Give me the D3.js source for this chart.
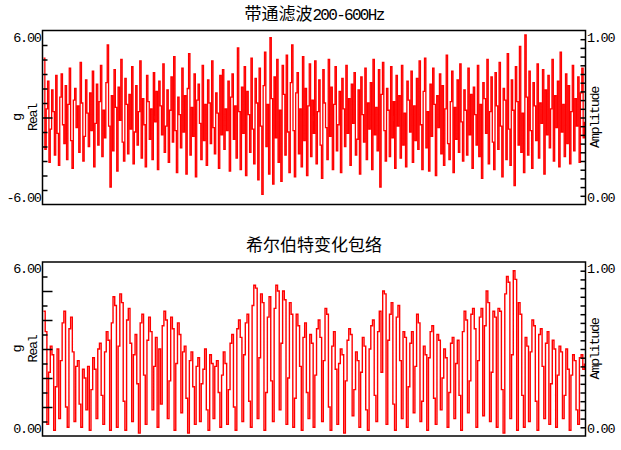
<!DOCTYPE html>
<html>
<head>
<meta charset="utf-8">
<script src="https://cdn.jsdelivr.net/npm/d3@7"></script>
<style>
  body { margin: 0; background: #fff; }
  svg { display: block; }
</style>
</head>
<body>
<div id="chart"></div>
<script>
// band-pass filtered signal (g)
let bandpass = [
  4.1, -2.2, 0.6, 2.5, -3.1, -0.8, 1.9, 0.4, -2.6, 2.9, -1.1, -3.3, 1.4, 3.0, -0.5, -1.8, 2.2, -2.9, 0.9, 3.4,
  -1.6, -3.5, 1.2, 2.0, -0.7, 0.8, -2.4, 3.8, 1.0, -3.0, -1.3, 2.6, 0.3, -2.0, 1.7, -0.9, 3.2, -3.4, -0.4, 2.3,
  -1.9, 1.1, 3.6, -2.7, 0.5, -1.4, 2.4, 5.0, -0.6, -4.8, 1.5, -2.3, 3.3, 0.7, -3.7, 2.1, -0.2, 4.0, -1.7, -3.0,
  2.7, 0.9, -2.5, 1.6, -0.8, 3.5, -3.2, -1.0, 2.2, -1.9, 0.4, 3.9, -2.8, 1.3, -0.5, -3.4, 2.9, 1.1, -1.5, 0.6,
  -2.9, 3.1, -0.3, 1.8, -3.6, 2.5, 0.8, -1.2, 3.7, -2.4, -0.6, 1.9, -3.1, 0.5, 2.8, -1.7, 4.2, -0.9, -3.8, 1.4,
  0.2, -2.1, 3.4, -1.0, 1.5, -3.9, 2.0, 4.4, -2.6, 0.7, -1.3, 3.0, -4.1, 1.2, 2.3, -0.4, -2.9, 3.6, -1.6, 0.9,
  -3.3, 2.6, 1.0, -1.8, 3.9, -0.7, -2.5, 1.7, 0.3, -3.5, 2.9, -1.2, 3.3, -2.2, 0.6, -0.9, 2.5, -3.7, 1.4, 3.0,
  -1.5, 0.8, -2.8, 4.8, 0.4, -3.6, 2.1, -1.1, 3.5, -4.0, 1.8, 0.2, -2.4, 4.1, -0.8, -3.2, 2.7, 1.0, -4.3, 3.4,
  -0.6, -5.3, 2.2, 4.5, -2.0, 0.9, -3.9, 5.5, 1.3, -4.6, 2.8, -1.4, 4.0, -3.1, 0.5, -4.4, 3.6, 1.6, -2.6, 4.3,
  -1.0, -3.8, 2.4, 5.0, -0.9, -4.1, 1.7, 3.1, -2.5, 0.6, -3.4, 4.2, -1.6, 2.0, -4.0, 0.8, 3.7, -2.7, 1.2, -1.1,
  3.9, -3.2, 0.4, 2.6, -1.9, -4.2, 3.3, 1.0, -0.7, -2.9, 4.0, -1.3, 2.1, -3.6, 0.9, 3.5, -2.3, -0.5, 1.8, -3.8,
  2.7, 0.6, -2.0, 3.6, -1.1, 1.3, -3.3, 2.3, -0.4, 3.1, -2.6, -1.5, 1.9, -3.9, 2.8, 0.2, -1.7, 3.4, -2.9, 1.0,
  -0.8, 2.4, -3.6, 4.0, -1.2, 0.7, -2.3, 3.3, -4.8, 1.6, 3.8, -0.9, -3.0, 2.0, 0.5, -2.7, 3.5, -1.4, 1.1, -3.5,
  2.9, -0.6, 1.5, -2.8, 3.6, -1.9, 0.3, -3.4, 2.5, 1.2, -1.0, 3.2, -3.1, 0.8, -1.6, 2.7, -2.2, 3.9, -0.5, -3.6,
  1.8, 4.1, -2.1, 0.4, -3.7, 2.3, -1.3, 3.4, 0.9, -4.0, 1.5, -0.7, 3.0, -2.5, 2.2, -3.3, 0.6, 4.3, -1.8, -2.9,
  1.1, 3.2, -3.8, 0.7, -1.5, 2.6, -2.4, 3.7, -0.3, -3.0, 1.9, 0.5, -2.6, 3.4, -1.2, 1.6, -3.5, 2.1, 0.2, -1.9,
  3.6, -2.7, 0.9, -4.2, 2.4, 1.3, -1.1, 4.0, -3.2, 0.4, 2.8, -1.7, -3.6, 3.1, 0.8, -2.2, 3.8, -0.6, -4.1, 2.0,
  1.2, -2.9, 4.4, -0.8, -3.3, 2.6, 0.5, -4.7, 3.5, 1.1, -1.9, 4.9, -2.4, 0.3, -3.8, 5.7, 1.4, -2.6, 3.2, -0.9,
  -3.5, 2.4, 0.8, -1.6, 3.7, -2.8, 1.0, -0.4, 3.3, -3.9, 1.9, -1.2, 2.9, -2.1, 0.6, 4.0, -3.0, 1.5, -0.7, 2.5,
  -3.4, 4.5, -1.0, 0.9, -2.7, 3.0, -1.8, 2.2, -3.2, 0.4, 3.6, -2.3, 1.3, -0.6, 2.8, -3.1, 1.7, 3.4, -1.4, -0.3
];

// hilbert envelope (g)
let envelope = [
  4.3, 3.6, 0.4, 2.2, 3.1, 2.8, 0.2, 1.7, 3.0, 0.6, 2.6, 3.9, 4.3, 1.0, 0.3, 3.7, 4.1, 2.9, 0.5, 2.4,
  2.6, 1.1, 0.3, 2.3, 2.0, 0.9, 2.4, 0.2, 1.6, 2.7, 2.3, 0.6, 3.0, 3.2, 1.4, 0.4, 2.9, 3.6, 3.3, 0.2,
  3.9, 4.8, 4.5, 0.3, 3.1, 4.9, 4.6, 1.2, 0.2, 4.0, 4.4, 3.2, 0.5, 2.8, 3.5, 1.8, 0.1, 3.9, 4.2, 2.1,
  0.4, 3.3, 4.1, 3.6, 0.9, 2.4, 3.4, 0.3, 3.0, 1.1, 3.8, 4.3, 4.0, 0.6, 1.9, 4.1, 3.7, 0.2, 2.5, 3.9,
  3.5, 0.8, 2.9, 3.1, 1.3, 0.1, 2.6, 2.9, 1.7, 0.4, 2.4, 2.7, 0.5, 1.8, 2.3, 3.0, 0.9, 0.2, 2.8, 2.5,
  0.6, 2.4, 2.6, 1.5, 0.3, 2.1, 2.9, 2.5, 0.4, 1.6, 3.2, 3.5, 1.0, 0.2, 3.7, 4.0, 3.4, 0.5, 2.8, 3.9,
  4.2, 1.2, 0.3, 4.5, 5.2, 5.1, 0.6, 2.7, 4.9, 4.6, 0.2, 1.5, 4.1, 4.8, 1.9, 0.5, 4.4, 5.2, 5.0, 0.9,
  3.2, 5.0, 4.7, 0.4, 2.0, 4.6, 4.2, 0.3, 1.3, 4.2, 3.8, 2.4, 0.2, 3.4, 3.9, 1.5, 0.6, 3.5, 3.2, 0.3,
  2.1, 3.7, 4.0, 3.4, 0.5, 2.6, 4.4, 4.2, 1.0, 0.2, 3.1, 3.6, 2.3, 0.4, 2.5, 3.0, 2.8, 0.1, 1.9, 3.3,
  3.7, 3.5, 0.7, 1.6, 2.9, 2.6, 0.3, 2.2, 3.4, 3.1, 0.9, 0.2, 3.0, 3.8, 4.0, 1.4, 0.5, 3.6, 4.3, 2.2,
  5.0, 4.9, 0.4, 3.3, 4.2, 4.6, 1.1, 0.2, 4.1, 4.5, 2.6, 0.6, 3.6, 3.4, 0.3, 1.7, 3.2, 3.6, 0.8, 2.4,
  4.2, 3.9, 0.5, 1.2, 3.1, 2.8, 0.2, 2.7, 3.6, 3.8, 1.3, 0.4, 3.5, 3.3, 0.9, 2.0, 3.0, 2.7, 0.3, 1.5,
  3.2, 3.4, 0.6, 2.5, 3.3, 1.4, 0.2, 3.6, 4.3, 4.0, 0.8, 1.9, 4.2, 4.4, 3.7, 0.3, 2.6, 4.1, 4.4, 0.7,
  3.8, 5.0, 4.6, 0.5, 2.2, 4.3, 4.1, 0.3, 4.4, 4.3, 1.6, 0.1, 4.9, 5.5, 5.3, 0.6, 2.8, 5.7, 5.4, 0.2,
  4.6, 4.2, 1.4, 0.3, 3.4, 3.1, 0.5, 2.9, 4.0, 3.8, 1.2, 0.2, 3.5, 3.7, 2.4, 0.6, 3.2, 3.6, 0.4, 1.8,
  3.3, 3.0, 0.3, 2.1, 3.1, 2.9, 0.6, 1.4, 3.0, 2.3, 0.2, 2.1, 2.8, 2.6, 0.9, 0.4, 2.7, 2.8, 2.3, 2.5
];

let titles = ["带通滤波200-600Hz", "希尔伯特变化包络"];
let leftDomains = [[-6, 6], [0, 6]];
let leftMinorSteps = [1, 0.5];
let leftMajorSteps = [6, 1];
let rightDomain = [0, 1];
let rightStep = 0.05;
let leftLabel = ["g", "Real"];
let rightLabel = "Amplitude";

const MONO = "'Liberation Mono', 'DejaVu Sans Mono', monospace";
const CJK = "'Noto Sans CJK SC', sans-serif";

class SignalPanel {

  /**
   * One framed panel: left axis in g, right axis in amplitude
   */
  constructor (svg, top, title, domain, minorStep, majorStep, lineWidth) {
    this.svg = svg;
    this.left = 42.5;
    this.right = 585.5;
    this.top = top;
    this.height = 174;
    this.bottom = top + this.height;
    this.title = title;
    this.domain = domain;
    this.minorStep = minorStep;
    this.majorStep = majorStep;
    this.lineWidth = lineWidth;
  };

  // small mono text, squeezed to a half-width cell like the original font
  label(sel) {
    return sel.style("font-family", MONO)
        .style("font-size", "13.5px")
        .style("letter-spacing", "-1.3px");
  }

  update(data)
  {
    let g = this.svg.append("g");
    let cx = (this.left + this.right) / 2;
    let cy = (this.top + this.bottom) / 2;

    let xScale = d3.scaleLinear()
        .domain([0, data.length - 1])
        .range([this.left + 1, this.right - 1]);
    let yScale = d3.scaleLinear()
        .domain(this.domain)
        .range([this.bottom, this.top]);
    let yRight = d3.scaleLinear()
        .domain(rightDomain)
        .range([this.bottom, this.top]);

    // title, chinese runs in the CJK font, the rest in mono
    let t = g.append("text")
        .attr("x", cx)
        .attr("y", this.top - 11)
        .attr("text-anchor", "middle")
        .attr("fill", "#000");
    this.title.match(/[\u4e00-\u9fff]+|[^\u4e00-\u9fff]+/g).forEach(run => {
      let isCjk = /[\u4e00-\u9fff]/.test(run);
      t.append("tspan")
          .style("font-family", isCjk ? CJK : MONO)
          .style("font-size", isCjk ? "17px" : "16px")
          .style("letter-spacing", isCjk ? "0px" : "-1.7px")
          .text(run);
    });

    // signal
    let line = d3.line()
        .x((d, i) => xScale(i))
        .y(d => yScale(d))
        .curve(d3.curveStepAfter);
    g.append("path")
        .datum(data)
        .attr("d", line)
        .attr("fill", "none")
        .attr("stroke", "#ff0000")
        .attr("stroke-width", this.lineWidth);

    // left ticks point into the plot
    let span = this.domain[1] - this.domain[0];
    let nMinor = Math.round(span / this.minorStep);
    let minor = d3.range(1, nMinor).map(i => this.domain[0] + i * this.minorStep);
    let major = minor.filter(v => Math.abs(v / this.majorStep - Math.round(v / this.majorStep)) < 1e-6);
    minor = minor.filter(v => major.indexOf(v) < 0);

    let leftMinor = d3.axisRight(yScale).tickValues(minor).tickSize(5).tickFormat("");
    let leftMajor = d3.axisRight(yScale).tickValues(major).tickSize(10).tickFormat("");
    let rightAxis = d3.axisLeft(yRight)
        .tickValues(d3.range(1, 20).map(i => i * rightStep))
        .tickSize(5).tickFormat("");

    [leftMinor, leftMajor].forEach(ax => {
      g.append("g")
          .attr("transform", "translate(" + this.left + ",0)")
          .call(ax);
    });
    g.append("g")
        .attr("transform", "translate(" + this.right + ",0)")
        .call(rightAxis);
    g.selectAll(".domain").remove();
    g.selectAll(".tick line").attr("stroke", "#000").attr("stroke-width", 1.5);

    // frame
    g.append("rect")
        .attr("x", this.left)
        .attr("y", this.top)
        .attr("width", this.right - this.left)
        .attr("height", this.height)
        .attr("fill", "none")
        .attr("stroke", "#000")
        .attr("stroke-width", 1.5);

    // end labels sit just inside the frame range
    let fmt = v => v.toFixed(2);
    let leftEnds = [this.domain[1], this.domain[0]];
    let rightEnds = [rightDomain[1], rightDomain[0]];
    leftEnds.forEach((v, i) => {
      g.append("text")
          .attr("x", this.left - 2)
          .attr("y", i == 0 ? yScale(v) + 11 : yScale(v) - 3)
          .attr("text-anchor", "end")
          .call(s => this.label(s))
          .text(fmt(v));
    });
    rightEnds.forEach((v, i) => {
      g.append("text")
          .attr("x", this.right + 1.5)
          .attr("y", i == 0 ? yRight(v) + 11 : yRight(v) - 3)
          .attr("text-anchor", "start")
          .call(s => this.label(s))
          .text(fmt(v));
    });

    // axis names
    [21, 37].forEach((x, i) => {
      g.append("text")
          .attr("transform", "translate(" + x + "," + cy + ") rotate(-90)")
          .attr("text-anchor", "middle")
          .call(s => this.label(s))
          .text(leftLabel[i]);
    });
    g.append("text")
        .attr("transform", "translate(599," + cy + ") rotate(-90)")
        .attr("text-anchor", "middle")
        .call(s => this.label(s))
        .text(rightLabel);
  };
};

let svg = d3.select("#chart").append("svg")
    .attr("width", 621)
    .attr("height", 450);

let upper = new SignalPanel(svg, 30.5, titles[0], leftDomains[0], leftMinorSteps[0], leftMajorSteps[0], 1.3);
upper.update(bandpass);

let lower = new SignalPanel(svg, 262, titles[1], leftDomains[1], leftMinorSteps[1], leftMajorSteps[1], 1.4);
lower.update(envelope);
</script>
</body>
</html>
